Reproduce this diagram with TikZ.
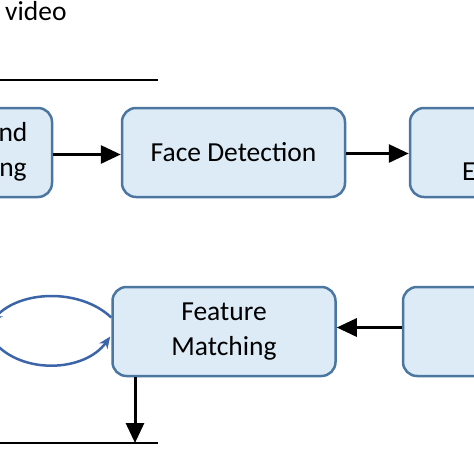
\documentclass[tikz,border=0pt]{standalone}
\usepackage{fontspec}
\setmainfont{Carlito}
\usetikzlibrary{arrows.meta,calc}
\definecolor{boxfill}{HTML}{DDEBF7}
\definecolor{boxline}{HTML}{4A76A0}
\definecolor{loopblue}{HTML}{3C64A8}
\begin{document}
\begin{tikzpicture}[x=1pt,y=-1pt,
  stagebox/.style={draw=boxline,fill=boxfill,line width=2.5pt,rounded corners=14pt,
    minimum width=223pt,minimum height=89pt,inner sep=0pt,align=center,
    font=\fontsize{27.5}{35}\selectfont},
  plain/.style={inner sep=0pt,font=\fontsize{27.5}{35}\selectfont},
  flow/.style={line width=3pt,-{Triangle[length=20pt,width=18pt]}},
  loopline/.style={draw=loopblue,line width=2.5pt}]
\clip (0,0) rectangle (474,474);
\node[plain,anchor=base west] (vid) at (5,20) {video};
\coordinate (tl1) at (0,80);
\coordinate (tl2) at (158,80);
\draw[line width=1.5pt] (tl1) -- (tl2);
\node[stagebox] (b1) at (-59.5,152.5) {};
\node[plain,align=center] (t1) at (13,152) {nd\\ng};
\node[stagebox] (fd) at (233.5,152.5) {Face Detection};
\node[stagebox] (b3) at (521.5,152.5) {};
\node[plain,anchor=base west] (t3) at (462,180) {E};
\node[stagebox] (fm) at (224,331.5) {Feature\\Matching};
\node[stagebox] (b4) at (514.5,331.5) {};
\draw[flow] ($(b1.east)+(0,2)$) -- ($(fd.west)+(0,2)$);
\draw[flow] ($(fd.east)+(0,1)$) -- ($(b3.west)+(0,1)$);
\draw[flow] ($(b4.west)+(0,-4)$) -- ($(fm.east)+(0,-4)$);
\coordinate (bl1) at (0,443);
\coordinate (bl2) at (158,443);
\coordinate (dn) at (135,443);
\draw[flow] (fm.south west -| dn) -- (dn);
\draw[line width=1.5pt] (bl1) -- (bl2);
\coordinate (la) at (-9,322);
\coordinate (lb) at (-6,342);
\draw[loopline,-{Stealth[length=12pt,width=10pt]}] ($(fm.west)+(0,-14)$) .. controls (80,288) and (20,290) .. (la);
\draw[loopline,-{Stealth[length=12pt,width=10pt]}] (lb) .. controls (22,375) and (85,372) .. ($(fm.west)+(-1,5)$);
\end{tikzpicture}
\end{document}
